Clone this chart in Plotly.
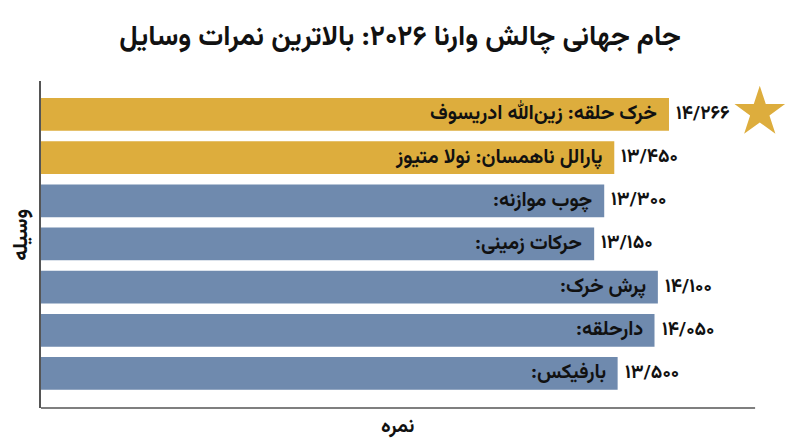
import plotly.graph_objects as go

# داده‌ها (از بالا به پایین)
labels = [
    "خرک حلقه: زین‌الله ادریسوف",
    "پارالل ناهمسان: نولا متیوز",
    "چوب موازنه:",
    "حرکات زمینی:",
    "پرش خرک:",
    "دارحلقه:",
    "بارفیکس:",
]
scores = [14.266, 13.450, 13.300, 13.150, 14.100, 14.050, 13.500]
score_text = ["۱۴/۲۶۶", "۱۳/۴۵۰", "۱۳/۳۰۰", "۱۳/۱۵۰", "۱۴/۱۰۰", "۱۴/۰۵۰", "۱۳/۵۰۰"]
highlight = [True, True, False, False, False, False, False]
star_x = [15.62]

FONT = "Vazirmatn, 'Noto Sans Arabic', 'DejaVu Sans', sans-serif"
GOLD = "#DDAD3D"
BLUE = "#6F8AAE"
RLM = "\u200f"

X_MIN, X_END, X_MAX = 4.9, 15.55, 16.19

n = len(labels)
ypos = list(range(n - 1, -1, -1))
colors = [GOLD if h else BLUE for h in highlight]

fig = go.Figure()

fig.add_trace(
    go.Bar(
        x=scores,
        y=ypos,
        base=0,
        orientation="h",
        width=0.76,
        marker=dict(color=colors, line=dict(width=0)),
        hoverinfo="skip",
    )
)

fig.add_trace(
    go.Scatter(
        x=star_x,
        y=[ypos[0] + 0.05],
        mode="markers",
        marker=dict(symbol="star", size=38, color=GOLD, line=dict(width=0)),
        hoverinfo="skip",
    )
)

annotations = []
for lab, val, txt, yy in zip(labels, scores, score_text, ypos):
    annotations.append(dict(
        x=val, y=yy, xref="x", yref="y",
        text="<b>" + lab + RLM + "</b>", showarrow=False,
        xanchor="right", xshift=-10,
        font=dict(family=FONT, size=20, color="#111111"),
    ))
    annotations.append(dict(
        x=val, y=yy, xref="x", yref="y",
        text="<b>" + txt + "</b>", showarrow=False,
        xanchor="left", xshift=5,
        font=dict(family=FONT, size=19, color="#111111"),
    ))

# عنوان محورها
annotations.append(dict(
    x=(X_MIN + X_END) / 2, y=0, xref="x", yref="paper",
    text="<b>نمره</b>", showarrow=False,
    xanchor="center", yanchor="middle", yshift=-19,
    font=dict(family=FONT, size=20, color="#111111"),
))
annotations.append(dict(
    x=0, y=0.53, xref="paper", yref="paper",
    text="<b>وسیله</b>", showarrow=False, textangle=-90,
    xanchor="center", yanchor="middle", xshift=-19,
    font=dict(family=FONT, size=21, color="#111111"),
))

fig.update_layout(
    width=800,
    height=447,
    margin=dict(l=33, r=10, t=73, b=47),
    paper_bgcolor="white",
    plot_bgcolor="white",
    showlegend=False,
    title=dict(
        text="<b>جام جهانی چالش وارنا ۲۰۲۶: بالاترین نمرات وسایل</b>",
        x=0.49, xanchor="center",
        y=0.94, yanchor="middle",
        font=dict(family=FONT, size=28, color="#111111"),
    ),
    annotations=annotations,
    shapes=[dict(
        type="line", xref="x", yref="paper",
        x0=X_MIN, x1=X_END, y0=0, y1=0,
        line=dict(color="#555555", width=1.5),
    )],
)

fig.update_xaxes(
    range=[X_MIN, X_MAX],
    showgrid=False, zeroline=False, showline=False,
    showticklabels=False, ticks="",
)
fig.update_yaxes(
    range=[-0.8, 6.775],
    showgrid=False, zeroline=False,
    showticklabels=False, ticks="",
    showline=True, linecolor="#555555", linewidth=1.5,
)

fig.write_html("out.html")
